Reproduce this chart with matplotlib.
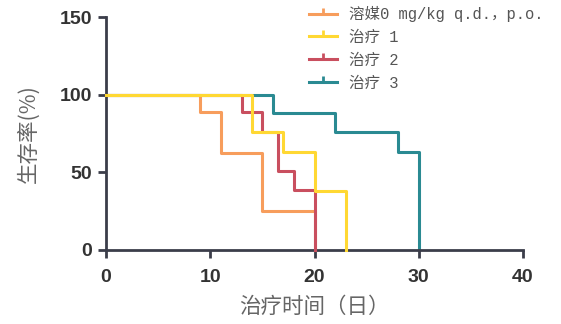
"""Kaplan-Meier style survival curves (生存率 vs 治疗时间)."""

import matplotlib

matplotlib.use("Agg")
import matplotlib.pyplot as plt
from matplotlib.lines import Line2D

# --- data ---
labels = ["溶媒0 mg/kg q.d.，p.o.", "治疗 1", "治疗 2", "治疗 3"]
colors = ["#F79D5C", "#FFD833", "#C94F5F", "#2A8A92"]

vehicle_days = [0, 9, 11, 15, 20]
vehicle_surv = [100, 89, 62.5, 25, 0]

treat1_days = [0, 14, 17, 20, 23]
treat1_surv = [100, 76, 63, 38, 0]

treat2_days = [0, 13, 15, 16.5, 18, 20]
treat2_surv = [100, 89, 76, 51, 38.5, 0]

treat3_days = [0, 16, 22, 28, 30]
treat3_surv = [100, 88.5, 76, 63, 0]

x_ticks = [0, 10, 20, 30, 40]
y_ticks = [0, 50, 100, 150]

AXIS = "#3b3d4a"
CJK = ["Noto Sans CJK SC", "DejaVu Sans"]

fig = plt.figure(figsize=(5.61, 3.24), dpi=100)
ax = fig.add_axes([106 / 561, 1 - 250 / 324, 417 / 561, 233 / 324])

series = [
    (vehicle_days, vehicle_surv, 2),
    (treat1_days, treat1_surv, 5),
    (treat2_days, treat2_surv, 3),
    (treat3_days, treat3_surv, 1),
]
for (days, surv, z), color in zip(series, colors):
    ax.step(days, surv, where="post", color=color, lw=2.2, zorder=z, clip_on=False)

ax.set_xlim(0, 40)
ax.set_ylim(0, 150)
ax.set_xticks(x_ticks)
ax.set_yticks(y_ticks)
for side in ("top", "right"):
    ax.spines[side].set_visible(False)
for side in ("left", "bottom"):
    ax.spines[side].set_color(AXIS)
    ax.spines[side].set_linewidth(2.0)
ax.tick_params(axis="both", colors=AXIS, width=2.0, length=6)
ax.tick_params(axis="x", pad=8)
ax.tick_params(axis="y", pad=4)
for lab in ax.get_xticklabels() + ax.get_yticklabels():
    lab.set_fontfamily("Liberation Sans")
    lab.set_fontweight("bold")
    lab.set_fontsize(14)
    lab.set_color("#333333")

ax.set_xlabel("治疗时间（日）", family=CJK, fontsize=15.5, color="#666666", labelpad=7)
ax.set_ylabel("生存率(%)", family=CJK, fontsize=15.5, color="#666666", labelpad=14)

handles = [
    Line2D([0], [0], color=c, lw=2.2, marker=2, markersize=4, markeredgewidth=2.0)
    for c in colors
]
leg = fig.legend(
    handles, labels, loc="upper left", bbox_to_anchor=(0.535, 1.01), numpoints=1,
    frameon=False, prop={"family": ["Liberation Mono", "Noto Sans CJK SC"], "size": 11.2},
    handlelength=1.75, handletextpad=0.8, labelspacing=0.5, borderpad=0.1,
)
for t in leg.get_texts():
    t.set_color("#555555")

fig.savefig("out.png", dpi=100)
